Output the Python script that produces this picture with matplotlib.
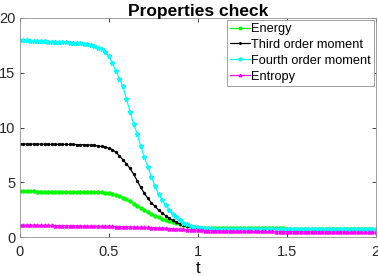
import matplotlib
matplotlib.use("Agg")
import matplotlib.pyplot as plt
import numpy as np

plt.rcParams['font.family'] = ['Liberation Sans', 'DejaVu Sans']

# temps
t = np.linspace(0, 2, 101)

energy = [4.17, 4.17, 4.17, 4.17, 4.17, 4.16, 4.16, 4.16, 4.16, 4.16,
          4.16, 4.16, 4.15, 4.15, 4.15, 4.15, 4.15, 4.15, 4.14, 4.14,
          4.14, 4.13, 4.12, 4.10, 4.06, 4.01, 3.93, 3.84, 3.73, 3.60,
          3.45, 3.25, 3.06, 2.86, 2.65, 2.46, 2.28, 2.10, 1.94, 1.80,
          1.67, 1.55, 1.45, 1.35, 1.25, 1.16, 1.08, 1.01, 0.95, 0.90,
          0.87, 0.84, 0.82, 0.81, 0.80, 0.80, 0.80, 0.79, 0.79, 0.79,
          0.79, 0.79, 0.79, 0.79, 0.79, 0.79, 0.79, 0.79, 0.79, 0.79,
          0.79, 0.79, 0.79, 0.79, 0.79, 0.78, 0.78, 0.78, 0.78, 0.78,
          0.78, 0.78, 0.78, 0.78, 0.78, 0.78, 0.78, 0.78, 0.78, 0.78,
          0.78, 0.78, 0.78, 0.78, 0.78, 0.78, 0.78, 0.78, 0.78, 0.78, 0.78]

third = [8.50, 8.50, 8.50, 8.49, 8.49, 8.49, 8.48, 8.48, 8.48, 8.47,
         8.47, 8.47, 8.46, 8.46, 8.45, 8.45, 8.44, 8.44, 8.43, 8.42,
         8.40, 8.37, 8.33, 8.27, 8.20, 8.12, 7.98, 7.75, 7.42, 7.05,
         6.68, 6.27, 5.75, 5.15, 4.55, 4.00, 3.55, 3.12, 2.80, 2.48,
         2.20, 1.95, 1.72, 1.52, 1.35, 1.18, 1.06, 0.97, 0.89, 0.83,
         0.79, 0.76, 0.75, 0.74, 0.74, 0.73, 0.73, 0.73, 0.73, 0.72,
         0.72, 0.72, 0.72, 0.72, 0.72, 0.72, 0.72, 0.72, 0.71, 0.71,
         0.71, 0.71, 0.71, 0.71, 0.71, 0.71, 0.71, 0.71, 0.71, 0.71,
         0.71, 0.70, 0.70, 0.70, 0.70, 0.70, 0.70, 0.70, 0.70, 0.70,
         0.70, 0.70, 0.70, 0.70, 0.70, 0.70, 0.70, 0.70, 0.70, 0.70, 0.70]

fourth = [18.00, 17.98, 17.96, 17.94, 17.92, 17.90, 17.88, 17.86, 17.84, 17.82,
          17.80, 17.79, 17.77, 17.76, 17.74, 17.72, 17.70, 17.68, 17.65, 17.61,
          17.55, 17.45, 17.30, 17.15, 16.90, 16.55, 15.90, 15.15, 14.45, 13.75,
          12.60, 11.45, 10.35, 9.40, 8.30, 7.30, 6.40, 5.50, 4.65, 3.95,
          3.40, 2.90, 2.50, 2.12, 1.82, 1.55, 1.33, 1.15, 1.03, 0.95,
          0.89, 0.85, 0.82, 0.80, 0.78, 0.77, 0.77, 0.76, 0.76, 0.76,
          0.76, 0.75, 0.75, 0.75, 0.75, 0.75, 0.75, 0.74, 0.74, 0.74,
          0.74, 0.74, 0.74, 0.74, 0.74, 0.74, 0.74, 0.74, 0.74, 0.74,
          0.74, 0.73, 0.73, 0.73, 0.73, 0.73, 0.73, 0.73, 0.73, 0.73,
          0.73, 0.73, 0.73, 0.73, 0.73, 0.73, 0.73, 0.73, 0.73, 0.73, 0.73]

entropy = [1.10, 1.10, 1.09, 1.09, 1.08, 1.08, 1.07, 1.07, 1.06, 1.06,
           1.05, 1.05, 1.04, 1.04, 1.03, 1.03, 1.02, 1.02, 1.01, 1.01,
           1.00, 1.00, 0.99, 0.99, 0.98, 0.98, 0.97, 0.96, 0.96, 0.95,
           0.94, 0.93, 0.92, 0.91, 0.90, 0.89, 0.88, 0.87, 0.85, 0.84,
           0.82, 0.80, 0.78, 0.76, 0.74, 0.72, 0.70, 0.68, 0.66, 0.64,
           0.62, 0.61, 0.60, 0.59, 0.58, 0.57, 0.57, 0.56, 0.56, 0.55,
           0.55, 0.54, 0.54, 0.53, 0.53, 0.53, 0.52, 0.52, 0.52, 0.51,
           0.51, 0.51, 0.50, 0.50, 0.50, 0.50, 0.49, 0.49, 0.49, 0.49,
           0.48, 0.48, 0.48, 0.48, 0.48, 0.47, 0.47, 0.47, 0.47, 0.47,
           0.47, 0.47, 0.46, 0.46, 0.46, 0.46, 0.45, 0.45, 0.45, 0.45, 0.45]

labels = ['Energy', 'Third order moment', 'Fourth order moment', 'Entropy']

fig = plt.figure(figsize=(3.78, 2.76), dpi=100)
ax = fig.add_axes([0.052, 0.141, 0.942, 0.794])

ax.plot(t, energy, color=(0, 1, 0), marker='o', ms=2.2, lw=0.9, label=labels[0])
ax.plot(t, third, color='k', marker='.', ms=2.8, lw=0.9, label=labels[1])
ax.plot(t, fourth, color=(0, 1, 1), marker='*', ms=3.4, lw=0.9, label=labels[2])
ax.plot(t, entropy, color=(1, 0, 1), marker='^', ms=2.2, lw=0.9, label=labels[3])

ax.set_xlim(0, 2)
ax.set_ylim(0, 20)
ax.set_xticks([0, 0.5, 1, 1.5, 2])
ax.set_xticklabels(['0', '0.5', '1', '1.5', '2'])
ax.set_yticks([0, 5, 10, 15, 20])
ax.tick_params(direction='in', top=True, right=True, length=3, width=0.6,
               colors='#262626', labelsize=10.5)
ax.tick_params(axis='x', pad=6)
ax.tick_params(axis='y', pad=3)
for s in ax.spines.values():
    s.set_color('#909090')
    s.set_linewidth(0.6)

ax.set_title('Properties check', fontsize=12.5, fontweight='bold', pad=1.5)
ax.set_xlabel('t', fontsize=12, labelpad=1)

leg = ax.legend(loc='upper right', fontsize=9.2, handlelength=1.5, handletextpad=0.1,
                borderpad=0.25, labelspacing=0.3, borderaxespad=0.15,
                fancybox=False, framealpha=1, edgecolor='#909090', markerscale=0.8)
leg.get_frame().set_linewidth(0.6)

fig.savefig('out.png', dpi=100)
